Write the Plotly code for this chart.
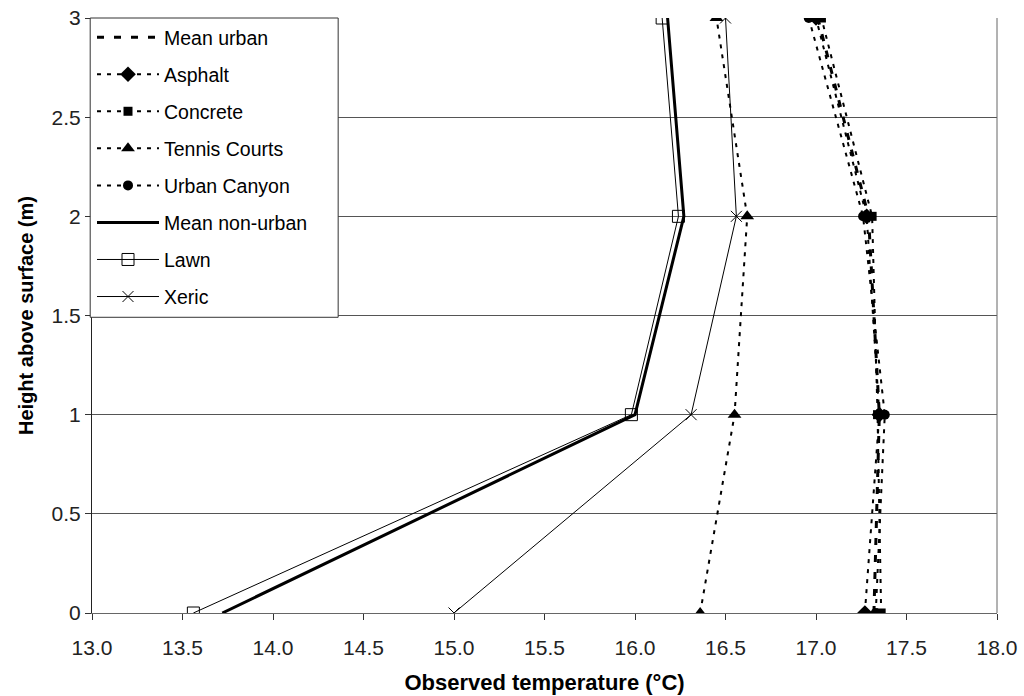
import plotly.graph_objects as go

# Heights above the surface (m)
heights = [0, 1, 2, 3]

# Observed temperatures (°C) at each height
mean_urban = [17.32, 17.35, 17.29, 17.01]
asphalt = [17.27, 17.35, 17.28, 17.00]
concrete = [17.36, 17.34, 17.31, 17.03]
tennis_courts = [16.36, 16.55, 16.62, 16.45]
urban_canyon = [17.33, 17.38, 17.26, 16.96]
mean_non_urban = [13.72, 16.00, 16.27, 16.18]
lawn = [13.56, 15.98, 16.24, 16.15]
xeric = [15.00, 16.31, 16.56, 16.50]

x_ticks = [13.0, 13.5, 14.0, 14.5, 15.0, 15.5, 16.0, 16.5, 17.0, 17.5, 18.0]
y_ticks = [0, 0.5, 1, 1.5, 2, 2.5, 3]

FONT = "Liberation Sans, Arial, sans-serif"

fig = go.Figure()


def add(name, xs, dash, width, marker=None):
    fig.add_trace(go.Scatter(
        x=xs, y=heights, name=name,
        mode="lines+markers" if marker else "lines",
        line=dict(color="black", width=width, dash=dash),
        marker=marker,
        legendgroup=name,
    ))


add("Mean urban", mean_urban, "7px,10px", 3)
add("Asphalt", asphalt, "4px,6px", 2,
    dict(symbol="diamond", size=12, color="black"))
add("Concrete", concrete, "4px,6px", 2,
    dict(symbol="square", size=9, color="black"))
add("Tennis Courts", tennis_courts, "4px,6px", 2,
    dict(symbol="triangle-up", size=12, color="black"))
add("Urban Canyon", urban_canyon, "4px,6px", 2,
    dict(symbol="circle", size=10, color="black"))
add("Mean non-urban", mean_non_urban, "solid", 3)
add("Lawn", lawn, "solid", 1,
    dict(symbol="square-open", size=12, color="black", line=dict(width=1)))
add("Xeric", xeric, "solid", 1,
    dict(symbol="x-thin-open", size=11, color="black", line=dict(width=1)))

fig.update_layout(
    width=1024, height=696,
    margin=dict(l=92, r=27, t=18, b=83),
    paper_bgcolor="white", plot_bgcolor="white",
    font=dict(family=FONT, size=16, color="black"),
    legend=dict(
        x=0, y=1, xanchor="left", yanchor="top",
        bgcolor="rgba(0,0,0,0)", borderwidth=0,
        font=dict(family=FONT, size=19.5, color="black"),
        traceorder="grouped", tracegroupgap=8.7,
        itemwidth=62,
    ),
    showlegend=True,
)

# white legend panel with a thin frame, sitting over the gridlines
fig.add_shape(type="rect", xref="paper", yref="paper",
              x0=-0.002, x1=0.272, y0=0.497, y1=1.0,
              fillcolor="white", line=dict(color="#333333", width=1),
              layer="above")

fig.update_xaxes(
    range=[13, 18], tickvals=x_ticks,
    ticktext=[f"{v:.1f}" for v in x_ticks],
    showgrid=False, zeroline=False, automargin=False,
    showline=True, linecolor="#666666", linewidth=1,
    ticks="outside", ticklen=6, tickcolor="#333333",
    ticklabelstandoff=10,
    tickfont=dict(family=FONT, size=21, color="#222222"),
    title=dict(text="<b>Observed temperature (°C)</b>",
               font=dict(family=FONT, size=22, color="black"), standoff=16),
)
fig.update_yaxes(
    range=[0, 3], tickvals=y_ticks,
    ticktext=["0", "0.5", "1", "1.5", "2", "2.5", "3"],
    showgrid=True, gridcolor="#555555", gridwidth=1, zeroline=False,
    automargin=False,
    showline=True, linecolor="#222222", linewidth=1,
    ticks="outside", ticklen=6, tickcolor="#333333",
    tickfont=dict(family=FONT, size=21, color="#222222"),
    title=dict(text="<b>Height above surface (m)</b>",
               font=dict(family=FONT, size=20, color="black"), standoff=12),
)

# right-hand edge of the plot area
fig.add_shape(type="line", xref="paper", yref="paper", x0=1, x1=1, y0=0, y1=1,
              line=dict(color="#666666", width=1))

fig.write_html("out.html")
